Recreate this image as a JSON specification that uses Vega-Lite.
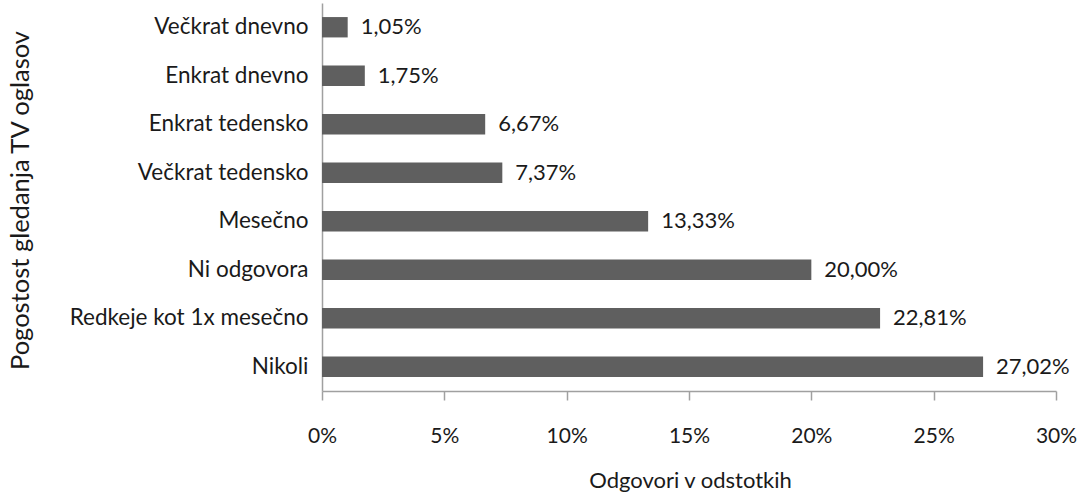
{
  "$schema": "https://vega.github.io/schema/vega-lite/v6.json",
  "width": 734,
  "height": 388,
  "autosize": {"type": "none"},
  "padding": {"left": 322, "top": 3, "right": 23, "bottom": 105},
  "background": "white",
  "config": {
    "locale": {"number": {"decimal": ",", "thousands": ".", "grouping": [3], "currency": ["", " €"]}},
    "font": "Lato",
    "view": {"stroke": null}
  },
  "data": {
    "values": [
      {"cat": "Večkrat dnevno", "v": 0.0105},
      {"cat": "Enkrat dnevno", "v": 0.0175},
      {"cat": "Enkrat tedensko", "v": 0.0667},
      {"cat": "Večkrat tedensko", "v": 0.0737},
      {"cat": "Mesečno", "v": 0.1333},
      {"cat": "Ni odgovora", "v": 0.2000},
      {"cat": "Redkeje kot 1x mesečno", "v": 0.2281},
      {"cat": "Nikoli", "v": 0.2702}
    ]
  },
  "encoding": {
    "y": {
      "field": "cat", "type": "nominal", "sort": null,
      "scale": {"paddingInner": 0.58, "paddingOuter": 0.29},
      "axis": {
        "title": "Pogostost gledanja TV oglasov",
        "titleFont": "Lato", "titleFontSize": 25.5, "titleFontWeight": "normal", "titleColor": "#1a1a1a",
        "titleX": -302, "titleY": 197, "titleAngle": -90, "titleBaseline": "middle", "titleAlign": "center",
        "labelFont": "Lato", "labelFontSize": 22.5, "labelColor": "#1a1a1a", "labelPadding": 14, "labelLimit": 400,
        "ticks": false, "domainColor": "#a0a0a0", "domainWidth": 1.5
      }
    },
    "x": {
      "field": "v", "type": "quantitative",
      "scale": {"domain": [0, 0.3], "nice": false},
      "axis": {
        "title": "Odgovori v odstotkih", "format": ".0%", "values": [0,0.05,0.1,0.15,0.2,0.25,0.3],
        "grid": false, "labelOverlap": false, "labelFlush": false,
        "titleFont": "Lato", "titleFontSize": 22, "titleFontWeight": "normal", "titleColor": "#1a1a1a",
        "titleY": 89, "titleX": 368, "titleBaseline": "middle",
        "labelFont": "Lato", "labelFontSize": 21, "labelColor": "#1a1a1a", "labelPadding": 25,
        "tickSize": 9, "tickColor": "#a0a0a0", "domainColor": "#a0a0a0", "domainWidth": 1.5, "tickWidth": 1.5
      }
    }
  },
  "layer": [
    {"mark": {"type": "bar", "color": "#5f5f5f"}},
    {
      "mark": {"type": "text", "align": "left", "baseline": "middle", "dx": 13, "font": "Lato", "fontSize": 22, "color": "#1a1a1a"},
      "encoding": {"text": {"field": "v", "type": "quantitative", "format": ".2%"}}
    }
  ]
}
